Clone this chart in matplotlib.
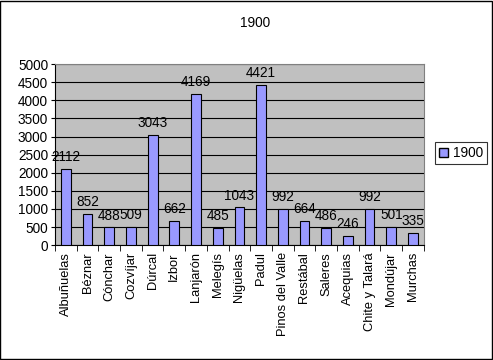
import matplotlib
matplotlib.use("Agg")
import matplotlib.pyplot as plt
import matplotlib.patches as mpatches
import numpy as np

plt.rcParams["font.family"] = ["Liberation Sans", "DejaVu Sans"]

pueblos = ["Albuñuelas", "Béznar", "Cónchar", "Cozvíjar", "Dúrcal", "Izbor",
           "Lanjarón", "Melegís", "Nigüelas", "Padul", "Pinos del Valle",
           "Restábal", "Saleres", "Acequias", "Chite y Talará", "Mondújar",
           "Murchas"]
habitantes_1900 = [2112, 852, 488, 509, 3043, 662, 4169, 485, 1043, 4421,
                   992, 664, 486, 246, 992, 501, 335]
yticks = [0, 500, 1000, 1500, 2000, 2500, 3000, 3500, 4000, 4500, 5000]

BAR = "#9999FF"
GRAY = "#C0C0C0"
FS = 9.8

fig = plt.figure(figsize=(4.93, 3.6), dpi=100)
fig.patch.set_facecolor("white")
ax = fig.add_axes([0.1116, 0.319, 0.748, 0.503])
ax.set_facecolor(GRAY)

x = np.arange(len(pueblos))
bars = ax.bar(x, habitantes_1900, width=0.45, color=BAR, edgecolor="black",
              linewidth=0.8, zorder=3)
ax.bar_label(bars, padding=3.5, fontsize=FS)

ax.set_xlim(-0.5, len(pueblos) - 0.5)
ax.set_ylim(0, 5000)
ax.set_yticks(yticks)
ax.yaxis.grid(True, color="black", linewidth=0.8, zorder=1)
ax.tick_params(axis="y", labelsize=FS, length=3, direction="out", pad=2)

ax.set_xticks(x)
ax.set_xticklabels(pueblos, rotation=90, fontsize=9.3)
ax.set_xticks(np.arange(len(pueblos) + 1) - 0.5, minor=True)
ax.tick_params(axis="x", which="major", length=0, pad=5)
ax.tick_params(axis="x", which="minor", length=4, direction="out")

for side in ["top", "right"]:
    ax.spines[side].set_color("#808080")
for side in ["left", "bottom"]:
    ax.spines[side].set_color("black")

fig.text(0.517, 0.935, "1900", ha="center", va="center", fontsize=FS)

handle = mpatches.Patch(facecolor=BAR, edgecolor="black", label="1900")
leg = fig.legend(handles=[handle], loc="center left", bbox_to_anchor=(0.882, 0.574),
                 fontsize=FS, frameon=True, fancybox=False, edgecolor="black",
                 handlelength=0.7, handleheight=0.7, handletextpad=0.3,
                 borderpad=0.3, borderaxespad=0)
leg.get_frame().set_linewidth(0.8)

# chart border
fig.add_artist(mpatches.Rectangle((0.001, 0.004), 0.996, 0.994, transform=fig.transFigure,
                                  fill=False, edgecolor="black", linewidth=1))

fig.savefig("out.png", dpi=100)
